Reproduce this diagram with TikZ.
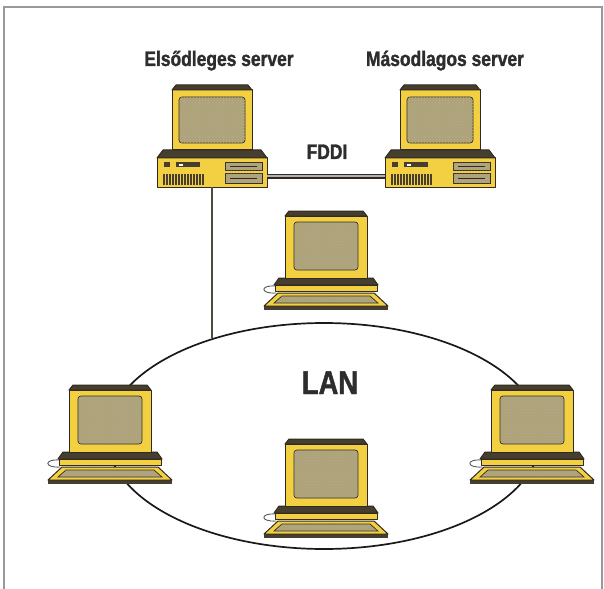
\documentclass[tikz,border=0pt]{standalone}
\usepackage{fontspec}
\setmainfont{Liberation Sans}
\newfontfamily\narrowsans{Liberation Sans}[FakeStretch=0.83, BoldFeatures={FakeBold=1.4}]
\usepackage{tikz}
\usetikzlibrary{shapes.geometric,patterns}

\definecolor{pcyellow}{RGB}{242,208,66}
\definecolor{pcdark}{RGB}{70,62,46}
\definecolor{pcscreen}{RGB}{176,163,118}
\definecolor{pcline}{RGB}{48,42,32}
\definecolor{inktext}{RGB}{45,45,45}

\begin{document}
\begin{tikzpicture}[x=1pt, y=-1pt,
    pc/.style={draw=pcline, fill=pcyellow, line width=1pt, line join=round},
    pcd/.style={draw=pcline, fill=pcdark, line width=1pt, line join=round},
    pcscr/.style={draw=pcline, fill=pcscreen, line width=0.7pt,
      postaction={pattern=crosshatch dots, pattern color=pcdark!45}},
    srvlabel/.style={font=\narrowsans\fontsize{21}{24}\selectfont\bfseries, text=inktext},
    lanlabel/.style={font=\narrowsans\fontsize{33}{36}\selectfont\bfseries, text=inktext},
    fddi/.style={draw=pcline, line width=1.2pt, double=gray!60, double distance=2.6pt},
    cable/.style={draw=pcline!85, line width=1.4pt},
    ring/.style={draw=black!90, ellipse, line width=1.7pt, inner sep=0pt,
      minimum width=434pt, minimum height=226pt},
    workstation/.pic={
      % base and keyboard
      \fill[pcdark] (-62,0) rectangle (62,-4);
      \draw[pc] (-62,-4) -- (62,-4) -- (48,-17) -- (-48,-17) -- cycle;
      \draw[pcscr] (-52,-7) -- (52,-7) -- (44,-14) -- (-44,-14) -- cycle;
      % keyboard cable
      \draw[gray!70!black, line width=0.9pt] (-51,-24) .. controls (-66,-25) and (-66,-16) .. (-50,-17);
      % base slab
      \draw[pc] (-51,-19) rectangle (51,-25);
      \draw[pcd] (-52,-25) -- (52,-25) -- (47,-32) -- (-47,-32) -- cycle;
      % monitor
      \draw[pc] (-41,-32) rectangle (41,-94);
      \draw[pcd] (-41,-94) -- (41,-94) -- (37,-99) -- (-37,-99) -- cycle;
      \draw[pcscr, rounded corners=3pt] (-32,-40) rectangle (32,-88);
    },
    server/.pic={
      % case
      \draw[pc] (-55,0) rectangle (55,-29);
      \draw[pcd] (-55,-29) -- (55,-29) -- (49,-37) -- (-49,-37) -- cycle;
      % monitor
      \draw[pc] (-40,-37) rectangle (40,-97);
      \draw[pcd] (-40,-97) -- (40,-97) -- (36,-102) -- (-36,-102) -- cycle;
      \draw[pcscr, rounded corners=3pt] (-33,-44) rectangle (33,-90);
      % front panel
      \fill[pcdark] (-48,-20) rectangle (-42,-25);
      \fill[pcdark] (-36,-20) rectangle (-12,-25);
      \fill[white] (-33,-21.5) rectangle (-29,-23.5);
      \foreach \i in {0,...,13}
        \fill[pcdark] (-49+3*\i,-2) rectangle ++(1.8,-11);
      \draw[pcscr] (13,-17) rectangle (50,-25);
      \draw[pcscr] (13,-4) rectangle (50,-14);
      \draw[pcline, line width=0.6pt] (18,-21) -- (45,-21) (18,-9) -- (45,-9);
      \coordinate (-left) at (-55,-11);
      \coordinate (-right) at (55,-11);
      \coordinate (-bottom) at (0,0);
    }]
    \useasboundingbox (0,0) rectangle (604,588);

    % Frame
    \draw[gray!80, line width=1.4pt] (4,590) -- (4,7) -- (602,7) -- (602,590);

    % Labels
    \node[srvlabel, anchor=base] (lblA) at (219,66) {Elsődleges server};
    \node[srvlabel, anchor=base] (lblB) at (445,66) {Másodlagos server};
    \node[srvlabel, anchor=base] (lblF) at (327,159) {FDDI};

    % LAN ring
    \node[ring] (lan) at (324,436) {};
    \node[lanlabel, anchor=base] (lblL) at (330,394) {LAN};

    % Servers
    \pic (srvA) at (212,187) {server};
    \pic (srvB) at (440,187) {server};
    \draw[fddi] (srvA-right) -- (srvB-left);
    \draw[cable] (srvA-bottom) -- (srvA-bottom |- lan.138.6);

    % Workstations
    \pic (wsTop) at (326,310) {workstation};
    \pic (wsLeft) at (110,484) {workstation};
    \pic (wsRight) at (532,484) {workstation};
    \pic (wsBottom) at (326,538) {workstation};
  \end{tikzpicture}
\end{document}
